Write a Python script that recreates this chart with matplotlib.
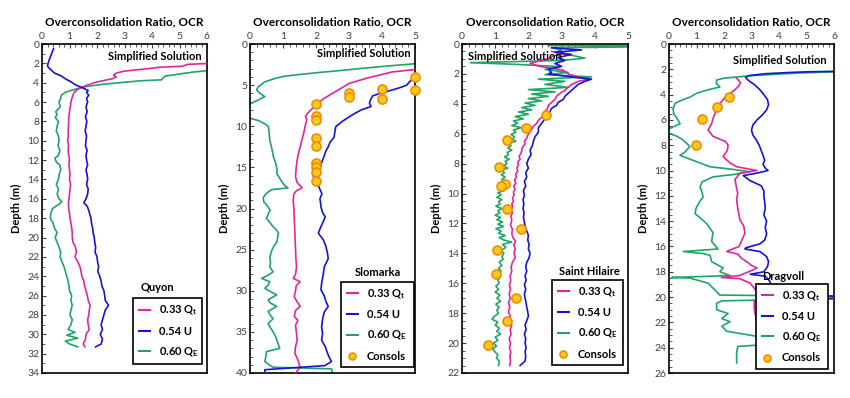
import matplotlib
matplotlib.use("Agg")
import matplotlib.pyplot as plt
from matplotlib.lines import Line2D
from matplotlib.ticker import MultipleLocator

plt.rcParams['font.family'] = ['Lato', 'DejaVu Sans']
plt.rcParams['mathtext.fontset'] = 'custom'
plt.rcParams['mathtext.rm'] = 'Lato'
plt.rcParams['mathtext.bf'] = 'Lato:bold'

# ---------------- DATA (depth m, OCR) ----------------
site_names = ["Quyon", "Slomarka", "Saint Hilaire", "Dragvoll"]
series_labels = [r"0.33 Q$_\mathbf{t}$", "0.54 U", r"0.60 Q$_\mathbf{E}$", "Consols"]
x_limits = [6, 5, 5, 6]
y_limits = [34, 40, 22, 26]
y_major = [2, 5, 2, 2]
y_minor = [1, 1, 0.5, 0.5]

quyon_033Qt = [(2.0, 6.2), (2.1, 5.3), (2.3, 5.1), (2.4, 4.3), (2.6, 3.7), (2.8, 3.0), (3.0, 2.7),
               (3.2, 2.6), (3.4, 2.7), (3.6, 2.55), (3.8, 2.2), (4.0, 1.9), (4.2, 1.7), (4.4, 1.5),
               (4.6, 1.35), (4.8, 1.25), (5.0, 1.17), (5.5, 1.1), (6.0, 1.05), (6.5, 1.03), (7.0, 1.0),
               (7.5, 0.98), (8.0, 0.97), (8.5, 0.96), (9.0, 0.95), (9.5, 0.96), (10.0, 0.93), (10.5, 0.97),
               (11.0, 0.95), (11.5, 0.97), (12.0, 1.0), (12.5, 0.98), (13.0, 1.0), (13.5, 1.02), (14.0, 1.0),
               (14.5, 1.04), (15.0, 1.02), (15.5, 1.0), (16.0, 0.98), (16.5, 0.96), (17.0, 0.97), (17.5, 1.0),
               (18.0, 1.02), (18.5, 1.05), (19.0, 1.08), (19.5, 1.1), (20.0, 1.1), (20.5, 1.13), (21.0, 1.22),
               (21.5, 1.25), (22.0, 1.2), (22.5, 1.3), (23.0, 1.38), (23.5, 1.42), (24.0, 1.45), (24.5, 1.52),
               (25.0, 1.55), (25.5, 1.6), (26.0, 1.65), (26.5, 1.68), (27.0, 1.75), (27.5, 1.72), (28.0, 1.7),
               (28.5, 1.66), (29.0, 1.68), (29.5, 1.72), (30.0, 1.6), (30.5, 1.58), (31.0, 1.5), (31.3, 1.56)]
quyon_054U = [(0.5, 0.42), (1.0, 0.35), (1.5, 0.28), (2.0, 0.22), (2.3, 0.2), (2.6, 0.3), (3.0, 0.45),
              (3.3, 0.7), (3.6, 0.85), (3.9, 1.05), (4.2, 1.2), (4.5, 1.45), (4.8, 1.68), (5.0, 1.62),
              (5.3, 1.7), (5.6, 1.62), (6.0, 1.66), (6.5, 1.6), (7.0, 1.64), (7.5, 1.58), (8.0, 1.63),
              (8.5, 1.6), (9.0, 1.57), (9.5, 1.62), (10.0, 1.6), (10.5, 1.58), (11.0, 1.64), (11.5, 1.6),
              (12.0, 1.62), (12.5, 1.66), (13.0, 1.6), (13.5, 1.64), (14.0, 1.66), (14.5, 1.62), (15.0, 1.68),
              (15.5, 1.66), (16.0, 1.6), (16.4, 1.52), (16.8, 1.65), (17.2, 1.7), (17.6, 1.74), (18.0, 1.78),
              (18.5, 1.8), (19.0, 1.84), (19.5, 1.86), (20.0, 1.9), (20.5, 1.92), (21.0, 1.95), (21.5, 1.93),
              (22.0, 2.0), (22.5, 2.02), (23.0, 2.06), (23.5, 2.03), (24.0, 2.1), (24.5, 2.15), (25.0, 2.18),
              (25.5, 2.25), (26.0, 2.28), (26.5, 2.3), (27.0, 2.42), (27.5, 2.3), (28.0, 2.25), (28.5, 2.2),
              (29.0, 2.15), (29.5, 2.2), (30.0, 2.12), (30.5, 2.2), (31.0, 2.15), (31.3, 1.95)]
quyon_060QE = [(2.7, 6.2), (2.9, 5.5), (3.1, 5.0), (3.3, 4.5), (3.5, 4.4), (3.7, 4.35), (3.8, 3.6),
               (4.0, 2.8), (4.2, 2.1), (4.4, 1.6), (4.6, 1.3), (4.8, 1.05), (5.0, 0.85), (5.3, 0.7),
               (5.6, 0.68), (6.0, 0.62), (6.5, 0.66), (7.0, 0.5), (7.3, 0.55), (7.6, 0.48), (8.0, 0.6),
               (8.5, 0.55), (9.0, 0.52), (9.5, 0.6), (10.0, 0.62), (10.5, 0.58), (11.0, 0.65), (11.5, 0.6),
               (11.8, 0.47), (12.2, 0.52), (12.5, 0.65), (13.0, 0.68), (13.5, 0.62), (14.0, 0.6), (14.5, 0.52),
               (15.0, 0.6), (15.5, 0.55), (16.0, 0.62), (16.3, 0.72), (16.6, 0.6), (17.0, 0.38), (17.5, 0.32),
               (18.0, 0.3), (18.5, 0.4), (19.0, 0.45), (19.5, 0.55), (20.0, 0.48), (20.5, 0.55), (21.0, 0.62),
               (21.5, 0.68), (22.0, 0.66), (22.5, 0.72), (23.0, 0.8), (23.5, 0.85), (24.0, 0.9), (24.5, 0.95),
               (25.0, 0.98), (25.5, 1.0), (26.0, 1.08), (26.5, 1.05), (27.0, 1.1), (27.5, 1.05), (28.0, 1.02),
               (28.5, 1.1), (29.0, 1.05), (29.5, 0.95), (29.8, 1.2), (30.1, 0.9), (30.4, 1.3), (30.7, 0.85),
               (31.0, 1.0), (31.3, 1.3)]

slomarka_033Qt = [(3.1, 5.0), (3.4, 4.3), (3.8, 3.9), (4.2, 3.5), (4.8, 3.0), (5.4, 2.75), (6.0, 2.5),
                  (6.6, 2.25), (7.2, 2.05), (7.6, 1.95), (8.0, 1.85), (8.4, 1.75), (8.8, 1.68), (9.2, 1.72),
                  (10.0, 1.67), (11.0, 1.62), (11.7, 1.57), (12.5, 1.52), (13.3, 1.47), (14.1, 1.43),
                  (15.0, 1.4), (16.1, 1.38), (16.8, 1.42), (17.5, 1.58), (17.8, 1.42), (18.2, 1.33),
                  (19.0, 1.31), (20.0, 1.33), (21.0, 1.34), (22.0, 1.35), (23.0, 1.36), (24.0, 1.37),
                  (25.0, 1.38), (26.0, 1.39), (27.1, 1.41), (28.0, 1.38), (28.5, 1.31), (28.9, 1.52),
                  (29.4, 1.4), (30.0, 1.38), (30.7, 1.34), (31.3, 1.42), (31.9, 1.52), (32.4, 1.38),
                  (33.1, 1.34), (33.6, 1.45), (34.2, 1.38), (35.2, 1.41), (36.0, 1.43), (36.8, 1.38),
                  (37.6, 1.36), (38.4, 1.45), (39.3, 1.52), (40.0, 1.38)]
slomarka_054U = [(3.8, 5.05), (4.2, 4.95), (4.6, 4.83), (5.0, 4.75), (5.3, 4.55), (5.6, 4.3),
                 (6.0, 3.95), (6.3, 3.72), (6.8, 3.65), (7.2, 3.62), (7.6, 3.67), (8.0, 3.38),
                 (8.5, 3.15), (9.0, 2.95), (9.4, 2.8), (10.05, 2.6), (10.7, 2.57), (11.3, 2.55),
                 (12.0, 2.42), (12.5, 2.37), (13.0, 2.3), (13.6, 2.25), (14.1, 2.2), (14.6, 2.16),
                 (15.1, 2.12), (15.6, 2.05), (15.9, 1.9), (16.1, 1.92), (16.3, 2.02), (17.0, 2.05),
                 (17.7, 2.12), (18.2, 2.18), (18.8, 2.12), (19.4, 2.14), (19.8, 2.15), (20.5, 2.2),
                 (21.0, 2.28), (21.6, 2.22), (22.2, 2.15), (23.0, 2.07), (23.8, 2.22), (24.6, 2.3),
                 (25.5, 2.35), (26.1, 2.37), (27.1, 2.25), (28.0, 2.22), (29.1, 2.17), (29.9, 2.15),
                 (30.6, 2.25), (31.3, 2.3), (31.9, 2.37), (32.6, 2.25), (33.4, 2.2), (34.4, 2.17),
                 (35.2, 2.2), (36.0, 2.17), (36.8, 2.28), (37.6, 2.35), (38.1, 2.4), (38.6, 2.47),
                 (39.1, 2.27), (39.6, 0.45), (40.0, 0.45)]
slomarka_060QE = [(2.4, 5.0), (2.7, 4.1), (3.0, 3.3), (3.2, 2.8), (3.5, 2.0), (3.75, 1.4), (3.95, 1.0),
                  (4.2, 0.75), (4.6, 0.45), (5.2, 0.25), (5.6, 0.2), (6.0, 0.3), (6.4, 0.45), (6.8, 0.25),
                  (7.2, 0.05), (7.6, -0.15), (8.4, -0.2), (9.0, -0.02), (9.3, 0.25), (9.7, 0.45),
                  (10.05, 0.56), (10.8, 0.58), (11.7, 0.6), (12.5, 0.65), (13.1, 0.68), (13.7, 0.71),
                  (14.5, 0.78), (15.3, 0.82), (15.7, 0.81), (16.2, 0.88), (16.7, 0.96), (17.2, 1.05),
                  (17.5, 1.15), (17.7, 0.66), (18.2, 0.48), (18.7, 0.4), (19.2, 0.42), (19.8, 0.55),
                  (20.2, 0.61), (20.7, 0.55), (21.2, 0.5), (21.7, 0.6), (22.2, 0.7), (22.6, 0.8),
                  (23.0, 0.86), (23.5, 0.84), (24.1, 0.81), (24.6, 0.72), (25.2, 0.65), (25.9, 0.6),
                  (26.5, 0.62), (27.1, 0.6), (27.7, 0.7), (28.1, 0.55), (28.5, 0.35), (28.9, 0.6),
                  (29.3, 0.55), (29.7, 0.45), (30.1, 0.62), (30.5, 0.81), (31.1, 0.55), (31.5, 0.62),
                  (31.9, 0.81), (32.5, 0.55), (33.0, 0.62), (33.4, 0.7), (34.0, 0.55), (34.5, 0.62),
                  (35.0, 0.7), (35.6, 0.78), (36.3, 0.84), (37.0, 0.9), (37.4, 0.5), (38.0, 0.48),
                  (38.6, 0.45), (39.0, 0.58), (39.3, 0.7), (39.5, 2.47), (40.0, 2.5)]
slomarka_consols = [(4.0, 5.0), (5.6, 5.0), (5.5, 4.0), (6.7, 4.0), (5.9, 3.0), (6.5, 3.0),
                    (7.3, 2.0), (8.7, 2.0), (9.3, 2.0), (11.4, 2.0), (12.4, 2.0), (14.5, 2.0),
                    (15.0, 2.0), (15.6, 2.0), (16.6, 2.0)]

hilaire_033Qt = [(0.5, 2.7), (0.65, 3.1), (0.8, 2.75), (1.0, 2.6), (1.2, 2.2), (1.3, 2.05), (1.5, 2.35),
                 (1.75, 3.05), (2.0, 3.2), (2.2, 3.5), (2.35, 3.8), (2.5, 3.5), (2.7, 3.3), (2.9, 3.2),
                 (3.1, 3.1), (3.3, 2.95), (3.5, 2.85), (3.7, 2.8), (3.9, 2.7), (4.1, 2.6), (4.3, 2.58),
                 (4.5, 2.5), (4.7, 2.45), (4.9, 2.4), (5.1, 2.3), (5.3, 2.25), (5.5, 2.15), (5.7, 2.1),
                 (5.9, 2.05), (6.1, 1.98), (6.3, 1.95), (6.5, 1.88), (6.7, 1.9), (6.9, 1.82), (7.1, 1.8),
                 (7.3, 1.78), (7.5, 1.72), (7.7, 1.75), (7.9, 1.68), (8.1, 1.7), (8.3, 1.65), (8.5, 1.68),
                 (8.7, 1.62), (8.9, 1.64), (9.1, 1.58), (9.3, 1.62), (9.5, 1.56), (9.7, 1.6), (9.9, 1.55),
                 (10.1, 1.57), (10.3, 1.52), (10.5, 1.55), (10.7, 1.5), (10.9, 1.53), (11.1, 1.48),
                 (11.3, 1.52), (11.5, 1.47), (11.8, 1.5), (12.1, 1.46), (12.4, 1.52), (12.7, 1.5),
                 (13.0, 1.55), (13.2, 1.62), (13.4, 1.56), (13.7, 1.6), (14.0, 1.57), (14.3, 1.6),
                 (14.6, 1.52), (14.9, 1.48), (15.2, 1.5), (15.5, 1.45), (15.8, 1.47), (16.1, 1.43),
                 (16.4, 1.46), (16.7, 1.42), (17.0, 1.45), (17.3, 1.4), (17.6, 1.44), (17.9, 1.4),
                 (18.2, 1.45), (18.5, 1.42), (18.8, 1.5), (19.1, 1.45), (19.4, 1.48), (19.7, 1.42),
                 (20.0, 1.46), (20.3, 1.43), (20.6, 1.47), (20.9, 1.44), (21.2, 1.46), (21.5, 1.44)]
hilaire_054U = [(0.25, 2.7), (0.4, 3.6), (0.55, 2.8), (0.7, 3.3), (0.9, 2.9), (1.1, 3.1), (1.3, 2.8),
                (1.5, 3.0), (1.7, 2.6), (1.9, 2.7), (2.0, 2.6), (2.2, 3.3), (2.35, 3.9), (2.5, 3.7),
                (2.7, 3.5), (2.9, 3.4), (3.1, 3.3), (3.3, 3.2), (3.5, 3.1), (3.7, 3.05), (3.9, 2.9),
                (4.1, 2.85), (4.3, 2.7), (4.5, 2.65), (4.8, 2.55), (5.0, 2.5), (5.3, 2.4), (5.6, 2.3),
                (5.9, 2.3), (6.2, 2.2), (6.5, 2.15), (6.8, 2.12), (7.1, 2.05), (7.4, 2.08), (7.7, 2.0),
                (8.0, 1.95), (8.3, 2.0), (8.6, 1.92), (8.9, 1.95), (9.2, 1.88), (9.5, 1.92), (9.8, 1.85),
                (10.1, 1.88), (10.4, 1.84), (10.7, 1.86), (11.0, 1.84), (11.3, 1.87), (11.6, 1.85),
                (11.9, 1.88), (12.2, 1.9), (12.5, 1.95), (12.8, 2.0), (13.1, 1.98), (13.4, 2.02),
                (13.7, 2.0), (14.0, 2.05), (14.3, 2.02), (14.6, 1.95), (14.9, 1.92), (15.2, 1.95),
                (15.5, 1.9), (15.8, 1.93), (16.1, 1.88), (16.4, 1.92), (16.7, 1.88), (17.0, 1.9),
                (17.3, 1.93), (17.6, 1.95), (17.9, 1.98), (18.2, 2.0), (18.5, 1.95), (18.8, 1.9),
                (19.1, 1.93), (19.4, 1.88), (19.7, 1.92), (20.0, 1.9), (20.3, 1.93), (20.6, 1.9),
                (20.9, 1.92), (21.2, 1.9), (21.5, 1.75)]
hilaire_060QE = [(0.1, 2.6), (0.12, 5.0), (0.2, 5.0), (0.25, 2.7), (0.4, 3.0), (0.55, 2.8), (0.75, 3.3),
                 (0.95, 3.7), (1.1, 3.0), (1.25, 0.25), (1.35, 1.5), (1.5, 2.9), (1.7, 2.5), (1.9, 3.2),
                 (2.05, 2.5), (2.2, 3.9), (2.35, 2.3), (2.5, 3.1), (2.7, 2.5), (2.9, 3.2), (3.05, 2.0),
                 (3.2, 2.8), (3.35, 2.1), (3.5, 2.6), (3.65, 2.0), (3.8, 2.4), (3.95, 1.9), (4.1, 2.2),
                 (4.25, 1.8), (4.4, 2.1), (4.55, 1.7), (4.7, 2.0), (4.85, 1.6), (5.0, 1.85), (5.15, 1.55),
                 (5.3, 1.68), (5.45, 1.5), (5.6, 1.78), (5.75, 1.55), (5.9, 1.62), (6.05, 1.48), (6.2, 1.58),
                 (6.35, 1.52), (6.5, 1.62), (6.65, 1.4), (6.8, 1.48), (6.95, 1.38), (7.1, 1.5), (7.25, 1.36),
                 (7.4, 1.4), (7.55, 1.28), (7.7, 1.42), (7.85, 1.3), (8.0, 1.35), (8.15, 1.25), (8.3, 1.38),
                 (8.45, 1.2), (8.6, 1.28), (8.75, 1.18), (8.9, 1.3), (9.05, 1.2), (9.2, 1.26), (9.35, 1.1),
                 (9.5, 1.22), (9.65, 1.15), (9.8, 1.28), (9.95, 1.08), (10.1, 1.18), (10.25, 1.05),
                 (10.4, 1.2), (10.55, 1.1), (10.7, 1.15), (10.85, 1.02), (11.0, 1.2), (11.15, 1.08),
                 (11.3, 1.14), (11.45, 1.0), (11.6, 1.16), (11.75, 1.05), (11.9, 1.22), (12.05, 1.08),
                 (12.2, 1.25), (12.35, 1.02), (12.5, 1.18), (12.65, 1.1), (12.8, 1.3), (12.95, 1.12),
                 (13.1, 1.25), (13.25, 1.5), (13.4, 1.22), (13.6, 1.32), (13.8, 1.18), (14.0, 1.26),
                 (14.2, 1.2), (14.4, 1.24), (14.6, 1.12), (14.8, 1.2), (15.0, 1.1), (15.2, 1.18),
                 (15.4, 1.06), (15.6, 1.14), (15.8, 1.08), (16.0, 1.12), (16.2, 1.02), (16.4, 1.1),
                 (16.6, 1.0), (16.8, 1.14), (17.0, 1.05), (17.2, 1.16), (17.4, 1.02), (17.6, 1.12),
                 (17.8, 1.05), (18.0, 1.1), (18.2, 0.98), (18.4, 0.9), (18.6, 1.08), (18.8, 1.0),
                 (19.0, 1.12), (19.2, 1.05), (19.4, 1.16), (19.6, 1.0), (19.8, 1.08), (20.0, 0.95),
                 (20.2, 1.04), (20.4, 0.92), (20.6, 1.0), (20.8, 1.08), (21.0, 1.04), (21.2, 1.12),
                 (21.5, 1.1)]
hilaire_consols = [(4.75, 2.54), (5.6, 1.94), (6.4, 1.37), (8.25, 1.11), (9.36, 1.29), (9.5, 1.16),
                   (11.0, 1.37), (12.4, 1.79), (13.8, 1.04), (15.4, 1.03), (17.0, 1.63), (18.5, 1.36),
                   (20.1, 0.78)]

dragvoll_033Qt = [(2.7, 2.45), (2.9, 2.55), (3.1, 2.6), (3.4, 2.5), (3.7, 2.35), (4.0, 2.15), (4.3, 2.0),
                  (4.7, 1.86), (5.1, 1.75), (5.5, 1.67), (5.9, 1.6), (6.3, 1.55), (6.8, 1.42), (7.3, 1.6),
                  (7.7, 2.05), (8.0, 2.15), (8.4, 2.12), (8.9, 1.97), (9.4, 2.22), (9.7, 2.46), (10.0, 3.2),
                  (10.2, 2.58), (10.7, 2.4), (11.3, 2.45), (11.8, 2.5), (12.3, 2.46), (13.0, 2.5),
                  (13.9, 2.58), (14.4, 2.72), (14.95, 2.76), (15.5, 2.65), (16.0, 2.55), (16.3, 2.2),
                  (16.4, 2.1), (16.6, 2.5), (16.9, 2.62), (17.2, 2.82), (17.5, 3.0), (17.7, 3.2),
                  (18.0, 2.9), (18.3, 2.55), (18.45, 1.9), (18.55, 2.58), (18.9, 2.95), (19.3, 3.1),
                  (19.6, 3.2), (19.95, 6.2), (20.1, 6.2), (20.3, 3.1), (20.9, 3.1), (22.0, 3.2),
                  (23.0, 3.2), (24.0, 3.2)]
dragvoll_054U = [(2.15, 6.2), (2.2, 5.0), (2.25, 4.4), (2.35, 3.5), (2.5, 2.9), (2.65, 2.78), (2.9, 2.9),
                 (3.2, 3.1), (3.6, 3.3), (4.0, 3.45), (4.4, 3.58), (4.8, 3.62), (5.2, 3.55), (5.6, 3.4),
                 (6.0, 3.2), (6.4, 3.05), (6.8, 3.0), (7.2, 3.05), (7.6, 3.18), (8.0, 3.28), (8.4, 3.35),
                 (8.8, 3.42), (9.2, 3.48), (9.5, 3.42), (9.8, 3.5), (10.0, 3.6), (10.2, 3.2), (10.4, 2.7),
                 (10.8, 2.95), (11.2, 3.35), (11.6, 3.45), (12.0, 3.45), (12.5, 3.48), (13.0, 3.5),
                 (13.5, 3.45), (14.0, 3.55), (14.5, 3.5), (15.0, 3.55), (15.5, 3.48), (15.8, 3.3),
                 (16.1, 2.8), (16.2, 2.76), (16.4, 3.3), (16.8, 3.55), (17.2, 3.62), (17.6, 3.58),
                 (18.0, 3.45), (18.2, 2.95), (18.35, 3.5), (18.7, 3.65), (19.2, 3.75), (19.7, 3.85),
                 (19.95, 6.2), (20.1, 6.2), (20.2, 3.9), (21.0, 3.8), (22.0, 3.7), (23.0, 3.6), (24.0, 3.55)]
dragvoll_060QE = [(2.19, 6.2), (2.3, 4.64), (2.5, 3.0), (2.7, 2.0), (2.85, 1.73), (3.1, 1.72), (3.4, 1.85),
                  (3.6, 1.45), (3.9, 1.0), (4.2, 0.76), (4.5, 0.4), (4.7, 0.22), (5.1, 0.15), (5.5, 0.17),
                  (5.9, 0.3), (6.3, 0.4), (6.65, 0.05), (6.8, -0.3), (7.0, -0.1), (7.3, 0.3), (7.6, 0.52),
                  (8.1, 0.76), (8.5, 0.6), (8.8, 0.4), (9.2, 0.88), (9.7, 1.49), (9.9, 2.3), (10.1, 2.95),
                  (10.3, 2.4), (10.5, 1.6), (10.9, 1.2), (11.3, 1.13), (11.7, 1.2), (12.1, 1.24),
                  (12.4, 1.13), (13.0, 0.98), (13.4, 0.95), (14.2, 1.37), (14.9, 1.6), (15.6, 1.55),
                  (16.2, 1.78), (16.4, 0.52), (16.55, 1.2), (16.7, 1.49), (17.2, 1.55), (17.7, 1.97),
                  (18.0, 1.85), (18.3, 2.22), (18.45, 0.1), (18.5, 0.76), (18.9, 1.42), (19.4, 1.65),
                  (19.84, 1.85), (19.95, 6.2), (20.1, 6.2), (20.3, 1.92), (20.5, 1.73), (21.0, 1.73),
                  (21.3, 2.15), (21.7, 1.92), (21.95, 2.22), (22.3, 1.92), (22.7, 2.1), (23.1, 3.19),
                  (23.5, 3.3), (23.8, 3.19), (23.9, 2.5), (24.4, 2.46), (25.2, 2.46)]
dragvoll_consols = [(4.2, 2.19), (5.0, 1.76), (5.95, 1.19), (8.0, 0.97)]

site_series = [
    (quyon_033Qt, quyon_054U, quyon_060QE, None),
    (slomarka_033Qt, slomarka_054U, slomarka_060QE, slomarka_consols),
    (hilaire_033Qt, hilaire_054U, hilaire_060QE, hilaire_consols),
    (dragvoll_033Qt, dragvoll_054U, dragvoll_060QE, dragvoll_consols),
]

# ---------------- STYLE ----------------
c_mag = '#E0259F'
c_blue = '#1414D2'
c_green = '#1FA564'
c_fill = '#FFC81E'
c_edge = '#F08C00'

W, H = 850, 398
fig = plt.figure(figsize=(W / 100, H / 100), dpi=100)

axes_px = [(42, 207), (250, 415), (462, 628), (669, 834)]
top_px, bot_px = 44, 373

leg_boxes = [(0.552, 0.027, 0.418, 0.195), (0.552, 0.018, 0.442, 0.256),
             (0.542, 0.024, 0.428, 0.256), (0.527, 0.012, 0.437, 0.255)]
name_pos = [(0.70, 0.26), (0.776, 0.305), (0.77, 0.308), (0.69, 0.293)]
simp_pos = [(0.965, 0.963, 'right'), (0.976, 0.97, 'right'), (0.036, 0.963, 'left'), (0.955, 0.95, 'right')]

for i in range(4):
    x0, x1 = axes_px[i]
    ax = fig.add_axes([x0 / W, (H - bot_px) / H, (x1 - x0) / W, (bot_px - top_px) / H])
    mag, blu, grn, cons = site_series[i]
    ax.plot([p[1] for p in grn], [p[0] for p in grn], color=c_green, lw=1.2, zorder=2)
    ax.plot([p[1] for p in mag], [p[0] for p in mag], color=c_mag, lw=1.2, zorder=3)
    ax.plot([p[1] for p in blu], [p[0] for p in blu], color=c_blue, lw=1.2, zorder=3)
    if cons is not None:
        ax.plot([p[1] for p in cons], [p[0] for p in cons], 'o', ms=6.5, mfc=c_fill, mec=c_edge,
                mew=1.2, zorder=5, clip_on=False)
    ax.set_xlim(0, x_limits[i])
    ax.set_ylim(y_limits[i], 0)
    ax.xaxis.set_ticks_position('top')
    ax.xaxis.set_label_position('top')
    ax.xaxis.set_major_locator(MultipleLocator(1))
    ax.xaxis.set_minor_locator(MultipleLocator(0.2))
    ax.yaxis.set_major_locator(MultipleLocator(y_major[i]))
    ax.yaxis.set_minor_locator(MultipleLocator(y_minor[i]))
    ax.tick_params(which='both', direction='in', top=True, bottom=False, left=True, right=False,
                   labelsize=7.5, pad=2, colors='#404040', labelcolor='#404040')
    ax.tick_params(which='major', length=3)
    ax.tick_params(which='minor', length=2)
    ax.set_xlabel("Overconsolidation Ratio, OCR", fontsize=8.5, fontweight='bold', labelpad=5)
    ax.set_ylabel("Depth (m)", fontsize=8, fontweight='bold', labelpad=4)
    for s in ax.spines.values():
        s.set_linewidth(1.2)
        s.set_color('black')

    handles = [Line2D([], [], color=c_mag, lw=1.5), Line2D([], [], color=c_blue, lw=1.5),
               Line2D([], [], color=c_green, lw=1.5)]
    labels = series_labels[:3]
    if cons is not None:
        handles.append(Line2D([], [], ls='', marker='o', ms=5, mfc=c_fill, mec=c_edge, mew=1.2))
        labels = series_labels
    leg = ax.legend(handles, labels, loc='lower left', bbox_to_anchor=leg_boxes[i], mode='expand',
                    borderaxespad=0, fancybox=False, framealpha=1, edgecolor='black',
                    handlelength=1.0, handletextpad=0.8, borderpad=0.5, labelspacing=0.75,
                    prop={'weight': 'bold', 'size': 8})
    leg.get_frame().set_linewidth(1.2)
    leg.set_zorder(10)
    ax.text(name_pos[i][0], name_pos[i][1], site_names[i], transform=ax.transAxes, ha='center',
            va='center', fontsize=8, fontweight='bold', zorder=11)
    sx, sy, sha = simp_pos[i]
    ax.text(sx, sy, "Simplified Solution", transform=ax.transAxes, ha=sha, va='center',
            fontsize=8, fontweight='bold', zorder=11)

fig.savefig("out.png", dpi=100)
